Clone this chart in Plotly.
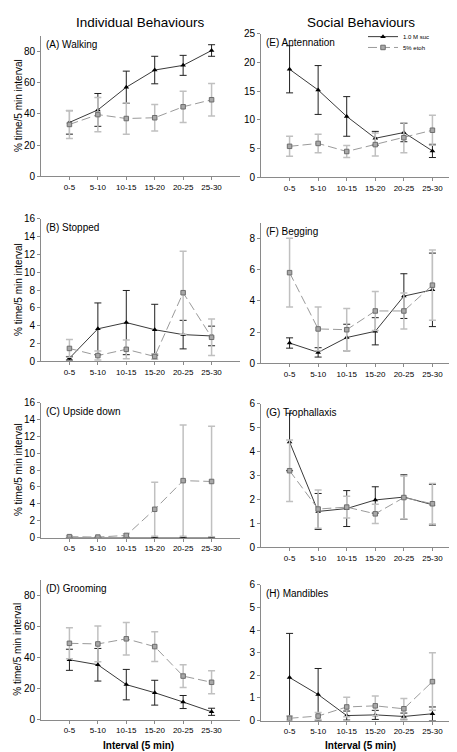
import plotly.graph_objects as go

categories = ["0-5", "5-10", "10-15", "15-20", "20-25", "25-30"]

walking_suc = [34.5, 42.5, 57.0, 68.0, 71.0, 80.5]
walking_suc_err = [7.5, 10.5, 10.3, 8.8, 6.4, 3.7]
walking_etoh = [33.2, 39.5, 37.0, 37.5, 44.5, 49.0]
walking_etoh_err = [9.0, 11.0, 10.0, 8.5, 10.0, 10.4]

stopped_suc = [0.35, 3.65, 4.35, 3.55, 3.0, 2.85]
stopped_suc_err = [0.2, 2.9, 3.6, 2.85, 1.6, 1.1]
stopped_etoh = [1.45, 0.65, 1.35, 0.55, 7.7, 2.7]
stopped_etoh_err = [1.0, 0.5, 1.05, 0.3, 4.65, 2.05]

upside_suc = [0.0, 0.0, 0.0, 0.0, 0.0, 0.0]
upside_suc_err = [0.0, 0.0, 0.0, 0.0, 0.0, 0.0]
upside_etoh = [0.1, 0.05, 0.25, 3.35, 6.75, 6.65]
upside_etoh_err = [0.1, 0.05, 0.2, 3.2, 6.6, 6.55]

grooming_suc = [38.5, 35.3, 22.5, 17.3, 11.3, 5.0]
grooming_suc_err = [6.8, 10.5, 9.8, 8.0, 4.2, 2.3]
grooming_etoh = [49.1, 48.7, 52.0, 47.0, 28.0, 24.0]
grooming_etoh_err = [10.0, 11.5, 10.5, 9.6, 7.3, 7.4]

antenn_suc = [18.8, 15.2, 10.6, 6.8, 7.8, 4.6]
antenn_suc_err = [4.1, 4.25, 3.45, 1.2, 1.6, 1.15]
antenn_etoh = [5.4, 5.9, 4.5, 5.7, 6.9, 8.2]
antenn_etoh_err = [1.75, 1.6, 1.05, 2.0, 2.6, 2.6]

begging_suc = [1.3, 0.7, 1.65, 2.05, 4.3, 4.7]
begging_suc_err = [0.33, 0.3, 0.85, 0.87, 1.43, 2.35]
begging_etoh = [5.8, 2.2, 2.15, 3.35, 3.35, 5.0]
begging_etoh_err = [2.2, 1.4, 1.35, 1.25, 1.15, 2.25]

troph_suc = [4.4, 1.5, 1.62, 1.98, 2.1, 1.78]
troph_suc_err = [1.2, 0.75, 0.75, 0.55, 0.93, 0.85]
troph_etoh = [3.2, 1.6, 1.68, 1.4, 2.08, 1.82]
troph_etoh_err = [1.28, 0.8, 0.45, 0.4, 0.9, 0.85]

mand_suc = [1.9, 1.15, 0.22, 0.25, 0.18, 0.3]
mand_suc_err = [1.95, 1.15, 0.2, 0.2, 0.15, 0.3]
mand_etoh = [0.1, 0.2, 0.6, 0.65, 0.52, 1.72]
mand_etoh_err = [0.1, 0.15, 0.43, 0.43, 0.45, 1.27]

series_names = ["1.0 M suc", "5% etoh"]

W, H = 457, 752

# panel: (label, suc, suc_err, etoh, etoh_err, ymax, dtick, column, top_px, bottom_px)
panels = [
    ("(A) Walking", walking_suc, walking_suc_err, walking_etoh, walking_etoh_err, 90, 20, 0, 22, 165),
    ("(B) Stopped", stopped_suc, stopped_suc_err, stopped_etoh, stopped_etoh_err, 16, 2, 0, 208, 353),
    ("(C) Upside down", upside_suc, upside_suc_err, upside_etoh, upside_etoh_err, 16, 2, 0, 395, 532),
    ("(D) Grooming", grooming_suc, grooming_suc_err, grooming_etoh, grooming_etoh_err, 90, 20, 0, 575, 717),
    ("(E) Antennation", antenn_suc, antenn_suc_err, antenn_etoh, antenn_etoh_err, 25, 5, 1, 20, 166),
    ("(F) Begging", begging_suc, begging_suc_err, begging_etoh, begging_etoh_err, 9, 2, 1, 212, 355),
    ("(G) Trophallaxis", troph_suc, troph_suc_err, troph_etoh, troph_etoh_err, 6, 1, 1, 396, 542),
    ("(H) Mandibles", mand_suc, mand_suc_err, mand_etoh, mand_etoh_err, 6, 1, 1, 580, 718),
]

xdom_px = [(33, 232), (253, 453)]

FONT = "Liberation Sans, Arial, sans-serif"
fig = go.Figure()
annotations = []
layout = {}

for i, (label, suc, suce, eto, etoe, ymax, dtick, col, top, bot) in enumerate(panels):
    n = i + 1
    xa = "x" if n == 1 else f"x{n}"
    ya = "y" if n == 1 else f"y{n}"
    show = (n == 5)
    fig.add_trace(go.Scatter(
        x=categories, y=suc, xaxis=xa, yaxis=ya, name=series_names[0],
        mode="lines+markers",
        line=dict(color="#3a3a3a", width=1),
        marker=dict(symbol="triangle-up", size=5, color="black"),
        error_y=dict(type="data", array=suce, color="#202020", thickness=1, width=3.5),
        showlegend=show, legend="legend",
    ))
    fig.add_trace(go.Scatter(
        x=categories, y=eto, xaxis=xa, yaxis=ya, name=series_names[1],
        mode="lines+markers",
        line=dict(color="#9a9a9a", width=1, dash="9px,4px"),
        marker=dict(symbol="square", size=4.5, color="#a8a8a8", line=dict(color="#6e6e6e", width=1)),
        error_y=dict(type="data", array=etoe, color="#c0c0c0", thickness=1.5, width=3.5),
        showlegend=show, legend="legend2",
    ))
    x0, x1 = xdom_px[col]
    layout["xaxis" if n == 1 else f"xaxis{n}"] = dict(
        domain=[x0 / W, x1 / W], anchor=ya, type="category",
        range=[-1, 6], showline=True, linecolor="#8a8a8a", linewidth=1,
        ticks="outside", ticklen=3, tickcolor="#8a8a8a", showgrid=False, zeroline=False,
        tickfont=dict(family=FONT, size=8, color="black"),
    )
    layout["yaxis" if n == 1 else f"yaxis{n}"] = dict(
        domain=[1 - bot / H, 1 - top / H], anchor=xa,
        range=[0, ymax], dtick=dtick, tick0=0, showline=True, linecolor="#8a8a8a", linewidth=1,
        ticks="outside", ticklen=3, tickcolor="#8a8a8a", showgrid=False, zeroline=False,
        tickfont=dict(family=FONT, size=10, color="black"),
    )
    annotations.append(dict(
        text=label, xref="paper", yref="paper", x=(x0 + 3) / W, y=1 - (top + 1) / H,
        xanchor="left", yanchor="top", showarrow=False,
        font=dict(family=FONT, size=10, color="black"),
    ))
    if col == 0:
        annotations.append(dict(
            text="% time/5 min interval", xref="paper", yref="paper",
            x=10 / W, y=1 - ((top + bot) / 2) / H, textangle=-90,
            xanchor="center", yanchor="middle", showarrow=False,
            font=dict(family=FONT, size=10, color="black"),
        ))

annotations += [
    dict(text="Individual Behaviours", xref="paper", yref="paper", x=132 / W, y=1 - 9 / H,
         xanchor="center", yanchor="middle", showarrow=False,
         font=dict(family=FONT, size=13.5, color="black")),
    dict(text="Social Behaviours", xref="paper", yref="paper", x=353 / W, y=1 - 9 / H,
         xanchor="center", yanchor="middle", showarrow=False,
         font=dict(family=FONT, size=13.5, color="black")),
    dict(text="<b>Interval (5 min)</b>", xref="paper", yref="paper", x=130 / W, y=1 - 743 / H,
         xanchor="center", yanchor="middle", showarrow=False,
         font=dict(family=FONT, size=10, color="black")),
    dict(text="<b>Interval (5 min)</b>", xref="paper", yref="paper", x=352 / W, y=1 - 743 / H,
         xanchor="center", yanchor="middle", showarrow=False,
         font=dict(family=FONT, size=10, color="black")),
]

fig.update_layout(
    width=W, height=H, margin=dict(l=0, r=0, t=0, b=0),
    paper_bgcolor="white", plot_bgcolor="white",
    annotations=annotations,
    legend=dict(x=355 / W, y=1 - 23 / H, xanchor="left", yanchor="middle",
                font=dict(family=FONT, size=6, color="black"), bgcolor="rgba(0,0,0,0)",
                borderwidth=0),
    legend2=dict(x=355 / W, y=1 - 34 / H, xanchor="left", yanchor="middle",
                 font=dict(family=FONT, size=6, color="black"), bgcolor="rgba(0,0,0,0)",
                 borderwidth=0),
    **layout,
)

fig.write_html("out.html")
